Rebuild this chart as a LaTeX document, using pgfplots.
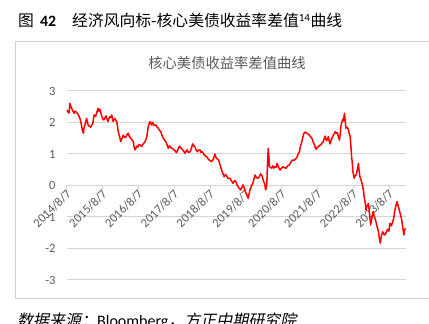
\documentclass[border=0pt]{standalone}
\usepackage{pgfplots}
\pgfplotsset{compat=1.18}
\usepackage{fontspec}
\setmainfont{Carlito}
\newfontfamily\cjk{Noto Sans CJK SC}
\newfontfamily\cjkit[FakeSlant=0.2]{Noto Sans CJK SC}
\definecolor{gridgray}{HTML}{D4D4D4}
\definecolor{framegray}{HTML}{D0D0D0}
\definecolor{txtgray}{HTML}{595959}
\begin{document}
\begin{tikzpicture}
\useasboundingbox (0pt,0pt) rectangle (429pt,324pt);
\begin{scope}
\clip (0pt,0pt) rectangle (429pt,324pt);
% footer
\node[anchor=base west, inner sep=0pt, font=\fontsize{16}{16}\selectfont] at (17pt,-3pt) {{\cjkit 数据来源：}Bloomberg{\cjkit ，方正中期研究院}};
\end{scope}
% figure title
\node[anchor=base west, inner sep=0pt, font=\fontsize{15.8}{15.8}\selectfont\cjk] at (18pt,297pt) {图};
\node[anchor=base west, inner sep=0pt, font=\fontsize{15.8}{15.8}\selectfont\bfseries] at (40pt,297pt) {42};
\node[anchor=base west, inner sep=0pt, font=\fontsize{15.8}{15.8}\selectfont] at (72pt,297pt) {{\cjk 经济风向标-核心美债收益率差值}\textsuperscript{14}{\cjk 曲线}};
% inner title
\node[anchor=base, inner sep=0pt, text=txtgray, font=\fontsize{14.3}{14.3}\selectfont\cjk] at (227pt,255pt) {核心美债收益率差值曲线};
\begin{axis}[
  at={(67pt,138.5pt)}, anchor=origin,
  scale only axis, width=338.7pt, height=189pt,
  xmin=0, xmax=9.46, ymin=-3, ymax=3,
  axis x line=middle, axis y line=left,
  hide obscured x ticks=false,
  x axis line style={-, draw=gridgray, line width=1pt},
  y axis line style={draw=none},
  xtick={0,1,2,3,4,5,6,7,8,9},
  xticklabels={2014/8/7,2015/8/7,2016/8/7,2017/8/7,2018/8/7,2019/8/7,2020/8/7,2021/8/7,2022/8/7,2023/8/7},
  ytick={-3,-2,-1,0,1,2,3},
  x tick style={draw=gridgray, line width=1pt},
  y tick style={draw=none},
  xtick align=outside,
  major tick length=4pt,
  ymajorgrids,
  grid style={draw=gridgray, line width=1pt},
  tick label style={text=txtgray, font=\fontsize{12.5}{12.5}\selectfont},
  xticklabel style={rotate=45, anchor=east, inner sep=1pt, yshift=-3pt, xshift=1pt},
  yticklabel style={anchor=east, xshift=-6pt},
  /pgf/number format/assume math mode=true,
  clip=false,
]
% chart frame (left, top, bottom edges; right edge lies beyond the picture)
\draw[draw=framegray, line width=1.2pt] (rel axis cs:1.075,1.262) -- (rel axis cs:-0.1523,1.262) -- (rel axis cs:-0.1523,-0.0979) -- (rel axis cs:1.075,-0.0979);
\addplot[color=red, line width=1.5pt, line join=round] table {
t v
0.00 2.40
0.03 2.33
0.06 2.30
0.08 2.61
0.11 2.50
0.13 2.45
0.17 2.35
0.20 2.29
0.22 2.36
0.25 2.34
0.28 2.30
0.32 2.24
0.34 2.18
0.36 2.13
0.39 2.00
0.41 1.87
0.43 1.75
0.46 1.66
0.47 1.80
0.50 1.92
0.53 2.05
0.55 2.13
0.57 2.00
0.59 1.92
0.63 1.88
0.66 1.85
0.69 1.92
0.72 1.97
0.74 2.12
0.76 2.24
0.80 2.20
0.83 2.31
0.85 2.38
0.87 2.45
0.89 2.36
0.92 2.42
0.95 2.30
0.97 2.19
1.00 2.12
1.03 2.08
1.06 2.15
1.09 2.21
1.12 2.10
1.14 2.03
1.17 2.12
1.20 2.19
1.23 2.16
1.25 2.24
1.27 2.12
1.29 2.03
1.31 2.08
1.34 2.13
1.37 2.06
1.39 2.03
1.41 1.88
1.43 1.71
1.47 1.55
1.50 1.39
1.54 1.50
1.57 1.60
1.61 1.52
1.65 1.55
1.68 1.62
1.71 1.66
1.74 1.56
1.78 1.50
1.81 1.46
1.85 1.39
1.87 1.25
1.90 1.13
1.93 1.20
1.95 1.25
1.98 1.22
2.01 1.30
2.04 1.29
2.08 1.24
2.11 1.29
2.15 1.35
2.18 1.39
2.21 1.48
2.23 1.55
2.25 1.72
2.27 1.87
2.29 1.95
2.32 2.03
2.35 1.95
2.37 1.92
2.39 2.00
2.41 1.97
2.44 1.90
2.49 1.92
2.51 1.86
2.55 1.82
2.58 1.76
2.62 1.71
2.65 1.60
2.69 1.50
2.72 1.45
2.76 1.39
2.79 1.30
2.83 1.18
2.86 1.26
2.90 1.21
2.93 1.18
2.97 1.15
3.02 1.10
3.06 1.04
3.10 1.15
3.14 1.25
3.17 1.20
3.20 1.18
3.25 1.10
3.30 1.02
3.32 1.08
3.36 1.13
3.39 1.05
3.44 1.07
3.48 1.20
3.51 1.32
3.55 1.25
3.58 1.21
3.60 1.15
3.64 1.07
3.67 1.12
3.72 1.13
3.74 1.05
3.78 1.07
3.81 1.02
3.83 0.97
3.87 0.94
3.90 0.91
3.94 0.85
3.97 0.81
4.01 0.78
4.04 0.76
4.06 0.80
4.09 0.83
4.11 0.92
4.13 1.00
4.16 0.90
4.18 0.86
4.23 0.81
4.25 0.75
4.29 0.60
4.33 0.45
4.39 0.28
4.43 0.35
4.46 0.30
4.50 0.22
4.55 0.23
4.59 0.15
4.64 0.07
4.68 0.15
4.72 0.12
4.75 0.02
4.78 -0.04
4.82 -0.10
4.85 -0.14
4.89 -0.05
4.92 0.02
4.96 -0.12
5.00 -0.25
5.03 -0.30
5.06 -0.41
5.08 -0.30
5.11 -0.14
5.15 -0.02
5.19 0.07
5.22 0.20
5.25 0.33
5.29 0.25
5.34 0.23
5.38 0.30
5.41 0.37
5.45 0.30
5.48 0.17
5.52 0.05
5.55 -0.14
5.57 -0.05
5.58 0.02
5.60 0.70
5.62 1.18
5.64 0.90
5.65 0.60
5.68 0.58
5.72 0.55
5.75 0.62
5.78 0.55
5.81 0.60
5.84 0.58
5.87 0.70
5.91 0.58
5.95 0.49
5.99 0.55
6.03 0.60
6.06 0.57
6.12 0.55
6.16 0.62
6.21 0.65
6.26 0.75
6.30 0.81
6.35 0.80
6.42 0.89
6.45 0.98
6.49 1.07
6.52 1.25
6.56 1.39
6.59 1.55
6.62 1.66
6.66 1.70
6.70 1.66
6.73 1.64
6.77 1.60
6.80 1.55
6.84 1.50
6.87 1.40
6.90 1.32
6.93 1.22
6.96 1.15
6.98 1.20
7.02 1.23
7.05 1.27
7.09 1.29
7.12 1.35
7.16 1.39
7.18 1.48
7.21 1.57
7.23 1.48
7.25 1.42
7.28 1.50
7.30 1.55
7.32 1.42
7.35 1.32
7.38 1.45
7.42 1.55
7.45 1.62
7.49 1.71
7.51 1.66
7.55 1.68
7.58 1.55
7.61 1.44
7.63 1.62
7.65 1.87
7.67 1.98
7.70 2.10
7.72 2.05
7.75 2.29
7.77 2.05
7.79 1.82
7.83 1.85
7.86 1.76
7.88 1.65
7.91 1.55
7.93 1.25
7.95 0.91
7.97 0.70
7.98 0.49
8.00 0.35
8.02 0.23
8.04 0.30
8.07 0.33
8.10 0.45
8.14 0.70
8.16 0.45
8.18 0.28
8.22 0.15
8.25 0.02
8.28 -0.15
8.30 -0.36
8.33 -0.55
8.35 -0.78
8.38 -0.65
8.42 -0.57
8.45 -0.90
8.48 -1.25
8.52 -1.00
8.55 -0.83
8.59 -1.00
8.63 -1.15
8.66 -1.30
8.70 -1.47
8.72 -1.65
8.75 -1.83
8.78 -1.60
8.82 -1.47
8.85 -1.55
8.88 -1.57
8.92 -1.48
8.95 -1.39
8.99 -1.45
9.02 -1.20
9.06 -1.28
9.10 -1.15
9.13 -1.00
9.16 -0.78
9.19 -0.62
9.22 -0.51
9.25 -0.65
9.28 -0.78
9.31 -0.90
9.35 -1.10
9.38 -1.35
9.41 -1.57
9.43 -1.40
9.46 -1.36
};
\end{axis}
\end{tikzpicture}
\end{document}
